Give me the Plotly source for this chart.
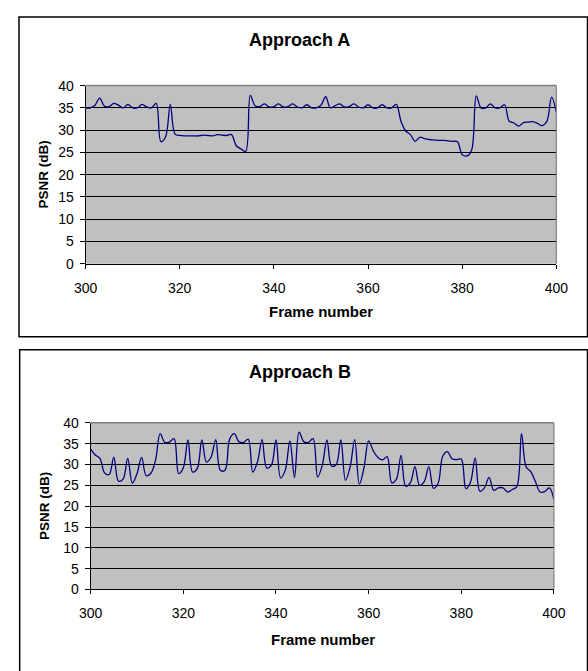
import plotly.graph_objects as go

W, H = 588, 671

frames = list(range(300, 401))

psnr_a = [
    35.0, 35.0, 35.6, 37.2, 35.4, 35.3, 36.0, 35.6, 35.0, 35.8,
    35.0, 35.0, 35.8, 35.2, 35.0, 36.0, 27.4, 28.5, 35.8, 29.1,
    28.8, 28.7, 28.7, 28.7, 28.7, 28.9, 28.8, 28.7, 29.0, 28.9,
    28.8, 29.0, 26.5, 25.8, 25.2, 37.8, 35.5, 35.3, 35.9, 35.2,
    35.3, 35.9, 35.2, 35.3, 35.9, 35.2, 35.0, 35.7, 35.0, 35.0,
    35.6, 37.5, 35.0, 35.5, 35.9, 35.2, 35.3, 35.9, 35.2, 35.0,
    35.7, 35.0, 35.0, 35.7, 35.0, 35.0, 35.8, 32.0, 29.8, 29.0,
    27.5, 28.4, 28.1, 27.9, 27.8, 27.7, 27.7, 27.6, 27.5, 27.4,
    24.5, 24.2, 25.5, 37.7, 35.0, 35.0, 35.9, 35.0, 35.0, 35.7,
    32.0, 31.6, 30.9, 31.7, 31.8, 31.9, 31.5, 31.0, 32.0, 37.4,
    34.0,
]

psnr_b = [
    33.7, 32.3, 31.5, 28.0, 27.6, 31.8, 26.0, 26.5, 31.5, 25.5,
    27.8, 31.7, 27.3, 27.9, 31.0, 37.4, 35.3, 35.4, 36.2, 27.8,
    29.2, 35.9, 28.2, 29.0, 35.9, 30.6, 31.8, 36.0, 28.6, 28.6,
    36.1, 37.4, 35.5, 35.3, 36.1, 28.2, 30.6, 36.0, 29.2, 29.8,
    35.9, 26.8, 28.6, 35.7, 26.9, 37.8, 35.5, 35.3, 36.2, 27.0,
    29.8, 35.9, 29.6, 30.0, 35.9, 26.2, 29.4, 36.0, 25.3, 29.2,
    35.7, 33.3, 31.7, 31.1, 31.9, 25.6, 26.5, 32.2, 24.8, 25.6,
    29.5, 25.0, 25.9, 29.5, 24.3, 25.5, 32.0, 33.1, 31.4, 31.2,
    31.3, 24.2, 25.8, 31.6, 23.6, 24.4, 26.9, 23.8, 24.4, 24.4,
    23.4, 24.0, 24.7, 37.4, 29.4, 28.3, 25.9, 23.4, 23.5, 24.4,
    21.6,
]

x_ticks = [300, 320, 340, 360, 380, 400]
y_ticks = [0, 5, 10, 15, 20, 25, 30, 35, 40]
titles = ["Approach A", "Approach B"]
x_title = "Frame number"
y_title = "PSNR (dB)"


def px(x):
    return x / W


def py(y):
    return 1 - y / H


FONT = "Liberation Sans, Arial, sans-serif"
LINE = "#000080"

# plot-area pixel boxes: (left, right, top, bottom)
boxes = [(76.7, 567.5, 79.5, 262.0), (82.0, 565.0, 425.0, 595.7)]
# chart frame boxes (left, top, right, bottom)
frames_px = [(7.3, 9.3, 600, 336.7), (8.0, 350.0, 600, 690)]
title_pos = [(300, 33), (300, 373)]
xtitle_pos = [(322, 311), (324, 647)]
ytitle_pos = [(33, 171), (34.5, 510)]

fig = go.Figure()
series = [psnr_a, psnr_b]
shapes = []
annotations = []
layout = dict(
    width=W, height=H, autosize=False,
    margin=dict(l=0, r=0, t=0, b=0),
    paper_bgcolor="white",
    plot_bgcolor="#C0C0C0",
    showlegend=False,
)

for i, (vals, box) in enumerate(zip(series, boxes)):
    xa = "x" if i == 0 else "x2"
    ya = "y" if i == 0 else "y2"
    fig.add_trace(go.Scatter(
        x=frames, y=vals, mode="lines", xaxis=xa, yaxis=ya,
        line=dict(color=LINE, width=1.3, shape="spline", smoothing=1.0),
        hoverinfo="skip",
    ))
    l, r, t, b = box
    key = "" if i == 0 else "2"
    layout["xaxis" + key] = dict(
        domain=[px(l), px(r)], anchor=ya, range=[300, 400],
        tickvals=x_ticks, ticks="outside", ticklen=4, tickcolor="black",
        tickwidth=1, showgrid=False, zeroline=False, showline=True,
        linecolor="black", linewidth=1,
        tickfont=dict(family=FONT, size=14, color="black"),
        ticklabelstandoff=7, fixedrange=True,
    )
    layout["yaxis" + key] = dict(
        domain=[py(b), py(t)], anchor=xa, range=[0, 40],
        tickvals=y_ticks, ticks="outside", ticklen=5, tickcolor="black",
        tickwidth=1, showgrid=True, gridcolor="black", gridwidth=1,
        zeroline=False, showline=True, linecolor="black", linewidth=1,
        tickfont=dict(family=FONT, size=14, color="black"),
        ticklabelstandoff=3, fixedrange=True,
    )
    # gray top and right borders of the plot area
    shapes.append(dict(type="line", xref="paper", yref="paper",
                       x0=px(l), x1=px(r), y0=py(t), y1=py(t),
                       line=dict(color="#808080", width=1.5)))
    shapes.append(dict(type="line", xref="paper", yref="paper",
                       x0=px(r), x1=px(r), y0=py(t), y1=py(b),
                       line=dict(color="#808080", width=1.2)))
    fx0, fy0, fx1, fy1 = frames_px[i]
    shapes.append(dict(type="rect", xref="paper", yref="paper",
                       x0=px(fx0), x1=px(fx1), y0=py(fy1), y1=py(fy0),
                       line=dict(color="black", width=1.5),
                       fillcolor="rgba(0,0,0,0)", layer="below"))
    tx, ty = title_pos[i]
    annotations.append(dict(text="<b>%s</b>" % titles[i], xref="paper", yref="paper",
                            x=px(tx), y=py(ty), xanchor="center", yanchor="middle",
                            showarrow=False,
                            font=dict(family=FONT, size=18, color="black")))
    ax_, ay_ = xtitle_pos[i]
    annotations.append(dict(text="<b>%s</b>" % x_title, xref="paper", yref="paper",
                            x=px(ax_), y=py(ay_), xanchor="center", yanchor="middle",
                            showarrow=False,
                            font=dict(family=FONT, size=15, color="black")))
    yx, yy = ytitle_pos[i]
    annotations.append(dict(text="<b>%s</b>" % y_title, xref="paper", yref="paper",
                            x=px(yx), y=py(yy), xanchor="center", yanchor="middle",
                            textangle=-90, showarrow=False,
                            font=dict(family=FONT, size=13.5, color="black")))

layout["shapes"] = shapes
layout["annotations"] = annotations
fig.update_layout(**layout)
fig.write_html(
    "out.html",
    config={"displayModeBar": False},
    post_script="document.body.style.margin='0';document.body.style.overflow='hidden';",
)
